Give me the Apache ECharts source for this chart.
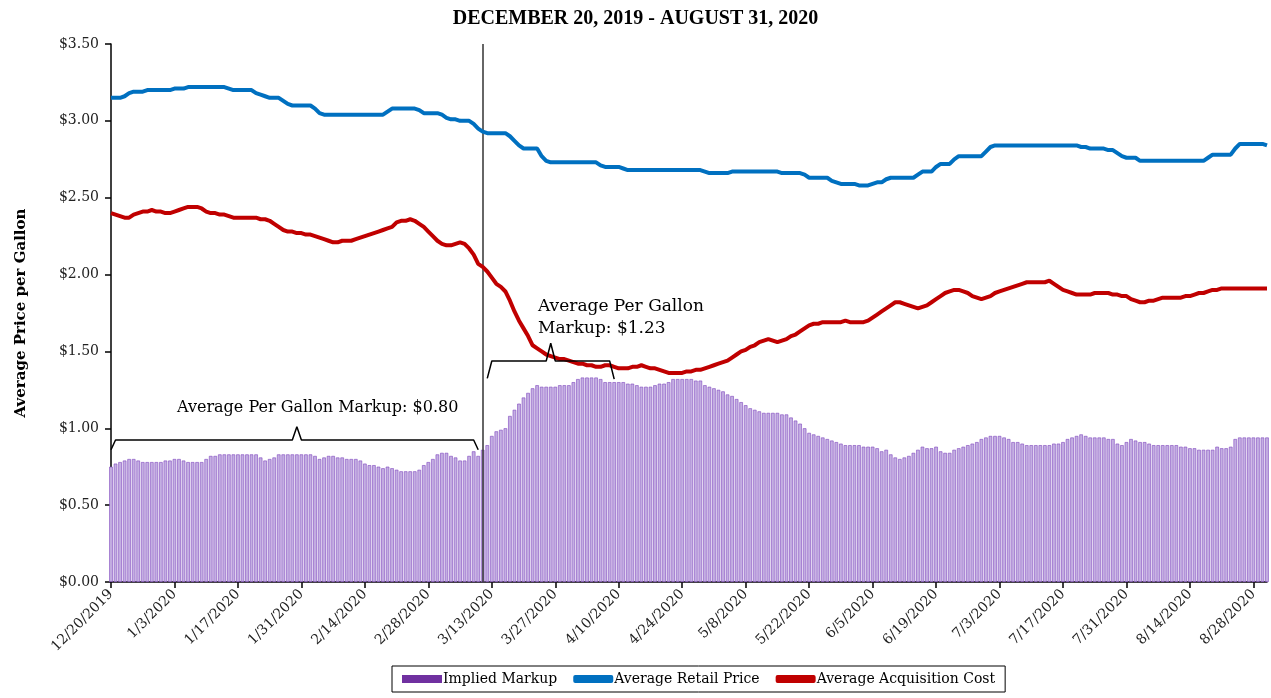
<!DOCTYPE html>
<html>
<head>
<meta charset="utf-8">
<script src="https://cdn.jsdelivr.net/npm/echarts@6/dist/echarts.min.js"></script>
<style>
  html, body { margin: 0; padding: 0; background: #fff; }
  #chart { width: 1271px; height: 698px; }
</style>
</head>
<body>
<div id="chart"></div>
<script>
// daily categories 12/20/2019 .. 8/31/2020
var dates = [];
for (var i = 0; i < 256; i++) {
  var dt = new Date(2019, 11, 20 + i);
  dates.push((dt.getMonth() + 1) + '/' + dt.getDate() + '/' + dt.getFullYear());
}

var yTicks = [0, 0.5, 1, 1.5, 2, 2.5, 3, 3.5];

// one row = 14 days (one tick label)
var retailPrice = [
  3.15, 3.15, 3.15, 3.16, 3.18, 3.19, 3.19, 3.19, 3.20, 3.20, 3.20, 3.20, 3.20, 3.20,
  3.21, 3.21, 3.21, 3.22, 3.22, 3.22, 3.22, 3.22, 3.22, 3.22, 3.22, 3.22, 3.21, 3.20,
  3.20, 3.20, 3.20, 3.20, 3.18, 3.17, 3.16, 3.15, 3.15, 3.15, 3.13, 3.11, 3.10, 3.10,
  3.10, 3.10, 3.10, 3.08, 3.05, 3.04, 3.04, 3.04, 3.04, 3.04, 3.04, 3.04, 3.04, 3.04,
  3.04, 3.04, 3.04, 3.04, 3.04, 3.06, 3.08, 3.08, 3.08, 3.08, 3.08, 3.08, 3.07, 3.05,
  3.05, 3.05, 3.05, 3.04, 3.02, 3.01, 3.01, 3.00, 3.00, 3.00, 2.98, 2.95, 2.93, 2.92,
  2.92, 2.92, 2.92, 2.92, 2.90, 2.87, 2.84, 2.82, 2.82, 2.82, 2.82, 2.77, 2.74, 2.73,
  2.73, 2.73, 2.73, 2.73, 2.73, 2.73, 2.73, 2.73, 2.73, 2.73, 2.71, 2.70, 2.70, 2.70,
  2.70, 2.69, 2.68, 2.68, 2.68, 2.68, 2.68, 2.68, 2.68, 2.68, 2.68, 2.68, 2.68, 2.68,
  2.68, 2.68, 2.68, 2.68, 2.68, 2.67, 2.66, 2.66, 2.66, 2.66, 2.66, 2.67, 2.67, 2.67,
  2.67, 2.67, 2.67, 2.67, 2.67, 2.67, 2.67, 2.67, 2.66, 2.66, 2.66, 2.66, 2.66, 2.65,
  2.63, 2.63, 2.63, 2.63, 2.63, 2.61, 2.60, 2.59, 2.59, 2.59, 2.59, 2.58, 2.58, 2.58,
  2.59, 2.60, 2.60, 2.62, 2.63, 2.63, 2.63, 2.63, 2.63, 2.63, 2.65, 2.67, 2.67, 2.67,
  2.70, 2.72, 2.72, 2.72, 2.75, 2.77, 2.77, 2.77, 2.77, 2.77, 2.77, 2.80, 2.83, 2.84,
  2.84, 2.84, 2.84, 2.84, 2.84, 2.84, 2.84, 2.84, 2.84, 2.84, 2.84, 2.84, 2.84, 2.84,
  2.84, 2.84, 2.84, 2.84, 2.83, 2.83, 2.82, 2.82, 2.82, 2.82, 2.81, 2.81, 2.79, 2.77,
  2.76, 2.76, 2.76, 2.74, 2.74, 2.74, 2.74, 2.74, 2.74, 2.74, 2.74, 2.74, 2.74, 2.74,
  2.74, 2.74, 2.74, 2.74, 2.76, 2.78, 2.78, 2.78, 2.78, 2.78, 2.82, 2.85, 2.85, 2.85,
  2.85, 2.85, 2.85, 2.84
];

var acquisitionCost = [
  2.40, 2.39, 2.38, 2.37, 2.37, 2.39, 2.40, 2.41, 2.41, 2.42, 2.41, 2.41, 2.40, 2.40,
  2.41, 2.42, 2.43, 2.44, 2.44, 2.44, 2.43, 2.41, 2.40, 2.40, 2.39, 2.39, 2.38, 2.37,
  2.37, 2.37, 2.37, 2.37, 2.37, 2.36, 2.36, 2.35, 2.33, 2.31, 2.29, 2.28, 2.28, 2.27,
  2.27, 2.26, 2.26, 2.25, 2.24, 2.23, 2.22, 2.21, 2.21, 2.22, 2.22, 2.22, 2.23, 2.24,
  2.25, 2.26, 2.27, 2.28, 2.29, 2.30, 2.31, 2.34, 2.35, 2.35, 2.36, 2.35, 2.33, 2.31,
  2.28, 2.25, 2.22, 2.20, 2.19, 2.19, 2.20, 2.21, 2.20, 2.17, 2.13, 2.07, 2.05, 2.02,
  1.98, 1.94, 1.92, 1.89, 1.83, 1.76, 1.70, 1.65, 1.60, 1.54, 1.52, 1.50, 1.48, 1.47,
  1.46, 1.45, 1.45, 1.44, 1.43, 1.42, 1.42, 1.41, 1.41, 1.40, 1.40, 1.41, 1.41, 1.40,
  1.39, 1.39, 1.39, 1.40, 1.40, 1.41, 1.40, 1.39, 1.39, 1.38, 1.37, 1.36, 1.36, 1.36,
  1.36, 1.37, 1.37, 1.38, 1.38, 1.39, 1.40, 1.41, 1.42, 1.43, 1.44, 1.46, 1.48, 1.50,
  1.51, 1.53, 1.54, 1.56, 1.57, 1.58, 1.57, 1.56, 1.57, 1.58, 1.60, 1.61, 1.63, 1.65,
  1.67, 1.68, 1.68, 1.69, 1.69, 1.69, 1.69, 1.69, 1.70, 1.69, 1.69, 1.69, 1.69, 1.70,
  1.72, 1.74, 1.76, 1.78, 1.80, 1.82, 1.82, 1.81, 1.80, 1.79, 1.78, 1.79, 1.80, 1.82,
  1.84, 1.86, 1.88, 1.89, 1.90, 1.90, 1.89, 1.88, 1.86, 1.85, 1.84, 1.85, 1.86, 1.88,
  1.89, 1.90, 1.91, 1.92, 1.93, 1.94, 1.95, 1.95, 1.95, 1.95, 1.95, 1.96, 1.94, 1.92,
  1.90, 1.89, 1.88, 1.87, 1.87, 1.87, 1.87, 1.88, 1.88, 1.88, 1.88, 1.87, 1.87, 1.86,
  1.86, 1.84, 1.83, 1.82, 1.82, 1.83, 1.83, 1.84, 1.85, 1.85, 1.85, 1.85, 1.85, 1.86,
  1.86, 1.87, 1.88, 1.88, 1.89, 1.90, 1.90, 1.91, 1.91, 1.91, 1.91, 1.91, 1.91, 1.91,
  1.91, 1.91, 1.91, 1.91
];

var impliedMarkup = [
  0.75, 0.77, 0.78, 0.79, 0.80, 0.80, 0.79, 0.78, 0.78, 0.78, 0.78, 0.78, 0.79, 0.79,
  0.80, 0.80, 0.79, 0.78, 0.78, 0.78, 0.78, 0.80, 0.82, 0.82, 0.83, 0.83, 0.83, 0.83,
  0.83, 0.83, 0.83, 0.83, 0.83, 0.81, 0.79, 0.80, 0.81, 0.83, 0.83, 0.83, 0.83, 0.83,
  0.83, 0.83, 0.83, 0.82, 0.80, 0.81, 0.82, 0.82, 0.81, 0.81, 0.80, 0.80, 0.80, 0.79,
  0.77, 0.76, 0.76, 0.75, 0.74, 0.75, 0.74, 0.73, 0.72, 0.72, 0.72, 0.72, 0.73, 0.76,
  0.78, 0.80, 0.83, 0.84, 0.84, 0.82, 0.81, 0.79, 0.79, 0.82, 0.85, 0.82, 0.86, 0.89,
  0.95, 0.98, 0.99, 1.00, 1.08, 1.12, 1.16, 1.20, 1.23, 1.26, 1.28, 1.27, 1.27, 1.27,
  1.27, 1.28, 1.28, 1.28, 1.30, 1.32, 1.33, 1.33, 1.33, 1.33, 1.32, 1.30, 1.30, 1.30,
  1.30, 1.30, 1.29, 1.29, 1.28, 1.27, 1.27, 1.27, 1.28, 1.29, 1.29, 1.30, 1.32, 1.32,
  1.32, 1.32, 1.32, 1.31, 1.31, 1.28, 1.27, 1.26, 1.25, 1.24, 1.22, 1.21, 1.19, 1.17,
  1.15, 1.13, 1.12, 1.11, 1.10, 1.10, 1.10, 1.10, 1.09, 1.09, 1.07, 1.05, 1.03, 1.00,
  0.97, 0.96, 0.95, 0.94, 0.93, 0.92, 0.91, 0.90, 0.89, 0.89, 0.89, 0.89, 0.88, 0.88,
  0.88, 0.87, 0.85, 0.86, 0.83, 0.81, 0.80, 0.81, 0.82, 0.84, 0.86, 0.88, 0.87, 0.87,
  0.88, 0.85, 0.84, 0.84, 0.86, 0.87, 0.88, 0.89, 0.90, 0.91, 0.93, 0.94, 0.95, 0.95,
  0.95, 0.94, 0.93, 0.91, 0.91, 0.90, 0.89, 0.89, 0.89, 0.89, 0.89, 0.89, 0.90, 0.90,
  0.91, 0.93, 0.94, 0.95, 0.96, 0.95, 0.94, 0.94, 0.94, 0.94, 0.93, 0.93, 0.90, 0.89,
  0.91, 0.93, 0.92, 0.91, 0.91, 0.90, 0.89, 0.89, 0.89, 0.89, 0.89, 0.89, 0.88, 0.88,
  0.87, 0.87, 0.86, 0.86, 0.86, 0.86, 0.88, 0.87, 0.87, 0.88, 0.93, 0.94, 0.94, 0.94,
  0.94, 0.94, 0.94, 0.94
];

// bracket outlines over the two periods, [day index, value]
var bracketBefore = [[0, 0.86], [1, 0.924], [40, 0.924], [41, 1.01], [42, 0.924], [80, 0.924], [81, 0.86]];
var bracketAfter = [[83, 1.325], [84, 1.438], [96, 1.438], [97, 1.553], [98, 1.438], [110, 1.438], [111, 1.32]];
var splitDate = '3/11/2020';

var serif = '"DejaVu Serif", serif';

var chart = echarts.init(document.getElementById('chart'));

chart.setOption({
  animation: false,
  title: {
    text: 'DECEMBER 20, 2019 - AUGUST 31, 2020',
    left: 'center',
    top: 4,
    textStyle: { fontFamily: '"Liberation Serif", serif', fontWeight: 'bold', fontSize: 20, color: '#000' }
  },
  grid: { left: 111, right: 4, top: 44, bottom: 116 },
  legend: {
    left: 392,
    top: 666,
    padding: [6, 10],
    itemGap: 16,
    itemWidth: 40,
    itemHeight: 8,
    borderColor: '#000',
    borderWidth: 1,
    textStyle: { fontFamily: serif, fontSize: 14, color: '#000', padding: [0, 0, 0, -4] },
    data: [
      { name: 'Implied Markup', icon: 'rect', itemStyle: { color: '#7030a0', borderWidth: 0 } },
      { name: 'Average Retail Price', icon: 'roundRect' },
      { name: 'Average Acquisition Cost', icon: 'roundRect' }
    ]
  },
  xAxis: {
    type: 'category',
    data: dates,
    boundaryGap: false,
    axisLine: { lineStyle: { color: '#000', width: 1.5 } },
    axisTick: { interval: 13, length: 6, lineStyle: { color: '#000', width: 1.5 } },
    axisLabel: { interval: 13, rotate: 45, fontFamily: serif, fontSize: 14, color: '#222', margin: 10 },
    splitLine: { show: false }
  },
  yAxis: {
    type: 'value',
    min: yTicks[0],
    max: yTicks[yTicks.length - 1],
    interval: 0.5,
    name: 'Average Price per Gallon',
    nameLocation: 'middle',
    nameGap: 82,
    nameTextStyle: { fontFamily: serif, fontWeight: 'bold', fontSize: 15, color: '#000' },
    axisLine: { show: true, lineStyle: { color: '#000', width: 1.5 } },
    axisTick: { show: true, length: 6, lineStyle: { color: '#000', width: 1.5 } },
    axisLabel: {
      fontFamily: serif, fontSize: 14, color: '#222', margin: 12,
      formatter: function (v) { return '$' + v.toFixed(2); }
    },
    splitLine: { show: false }
  },
  series: [
    {
      name: 'Implied Markup',
      type: 'bar',
      data: impliedMarkup,
      barCategoryGap: '22%',
      itemStyle: { color: '#c4afe2', borderColor: '#7e45bd', borderWidth: 0.6 },
      markLine: {
        silent: true,
        symbol: 'none',
        label: { show: false },
        lineStyle: { color: '#333', width: 1.5, type: 'solid' },
        data: [{ xAxis: splitDate }]
      }
    },
    {
      name: 'Average Retail Price',
      type: 'line',
      data: retailPrice,
      showSymbol: false,
      lineStyle: { color: '#0070c0', width: 4 },
      itemStyle: { color: '#0070c0' },
      z: 5
    },
    {
      name: 'Average Acquisition Cost',
      type: 'line',
      data: acquisitionCost,
      showSymbol: false,
      lineStyle: { color: '#c00000', width: 4 },
      itemStyle: { color: '#c00000' },
      z: 5
    },
    {
      name: 'bracket1',
      type: 'line',
      data: bracketBefore,
      showSymbol: false,
      silent: true,
      lineStyle: { color: '#000', width: 1.5 },
      z: 6
    },
    {
      name: 'bracket2',
      type: 'line',
      data: bracketAfter,
      showSymbol: false,
      silent: true,
      lineStyle: { color: '#000', width: 1.5 },
      z: 6
    }
  ],
  graphic: [
    {
      type: 'text', left: 177, top: 400,
      style: { text: 'Average Per Gallon Markup: $0.80', font: '16px "DejaVu Serif", serif', fill: '#000' }
    },
    {
      type: 'text', left: 538, top: 296,
      style: { text: 'Average Per Gallon\nMarkup: $1.23', font: '17px "DejaVu Serif", serif', lineHeight: 22, fill: '#000' }
    }
  ]
});
</script>
</body>
</html>
